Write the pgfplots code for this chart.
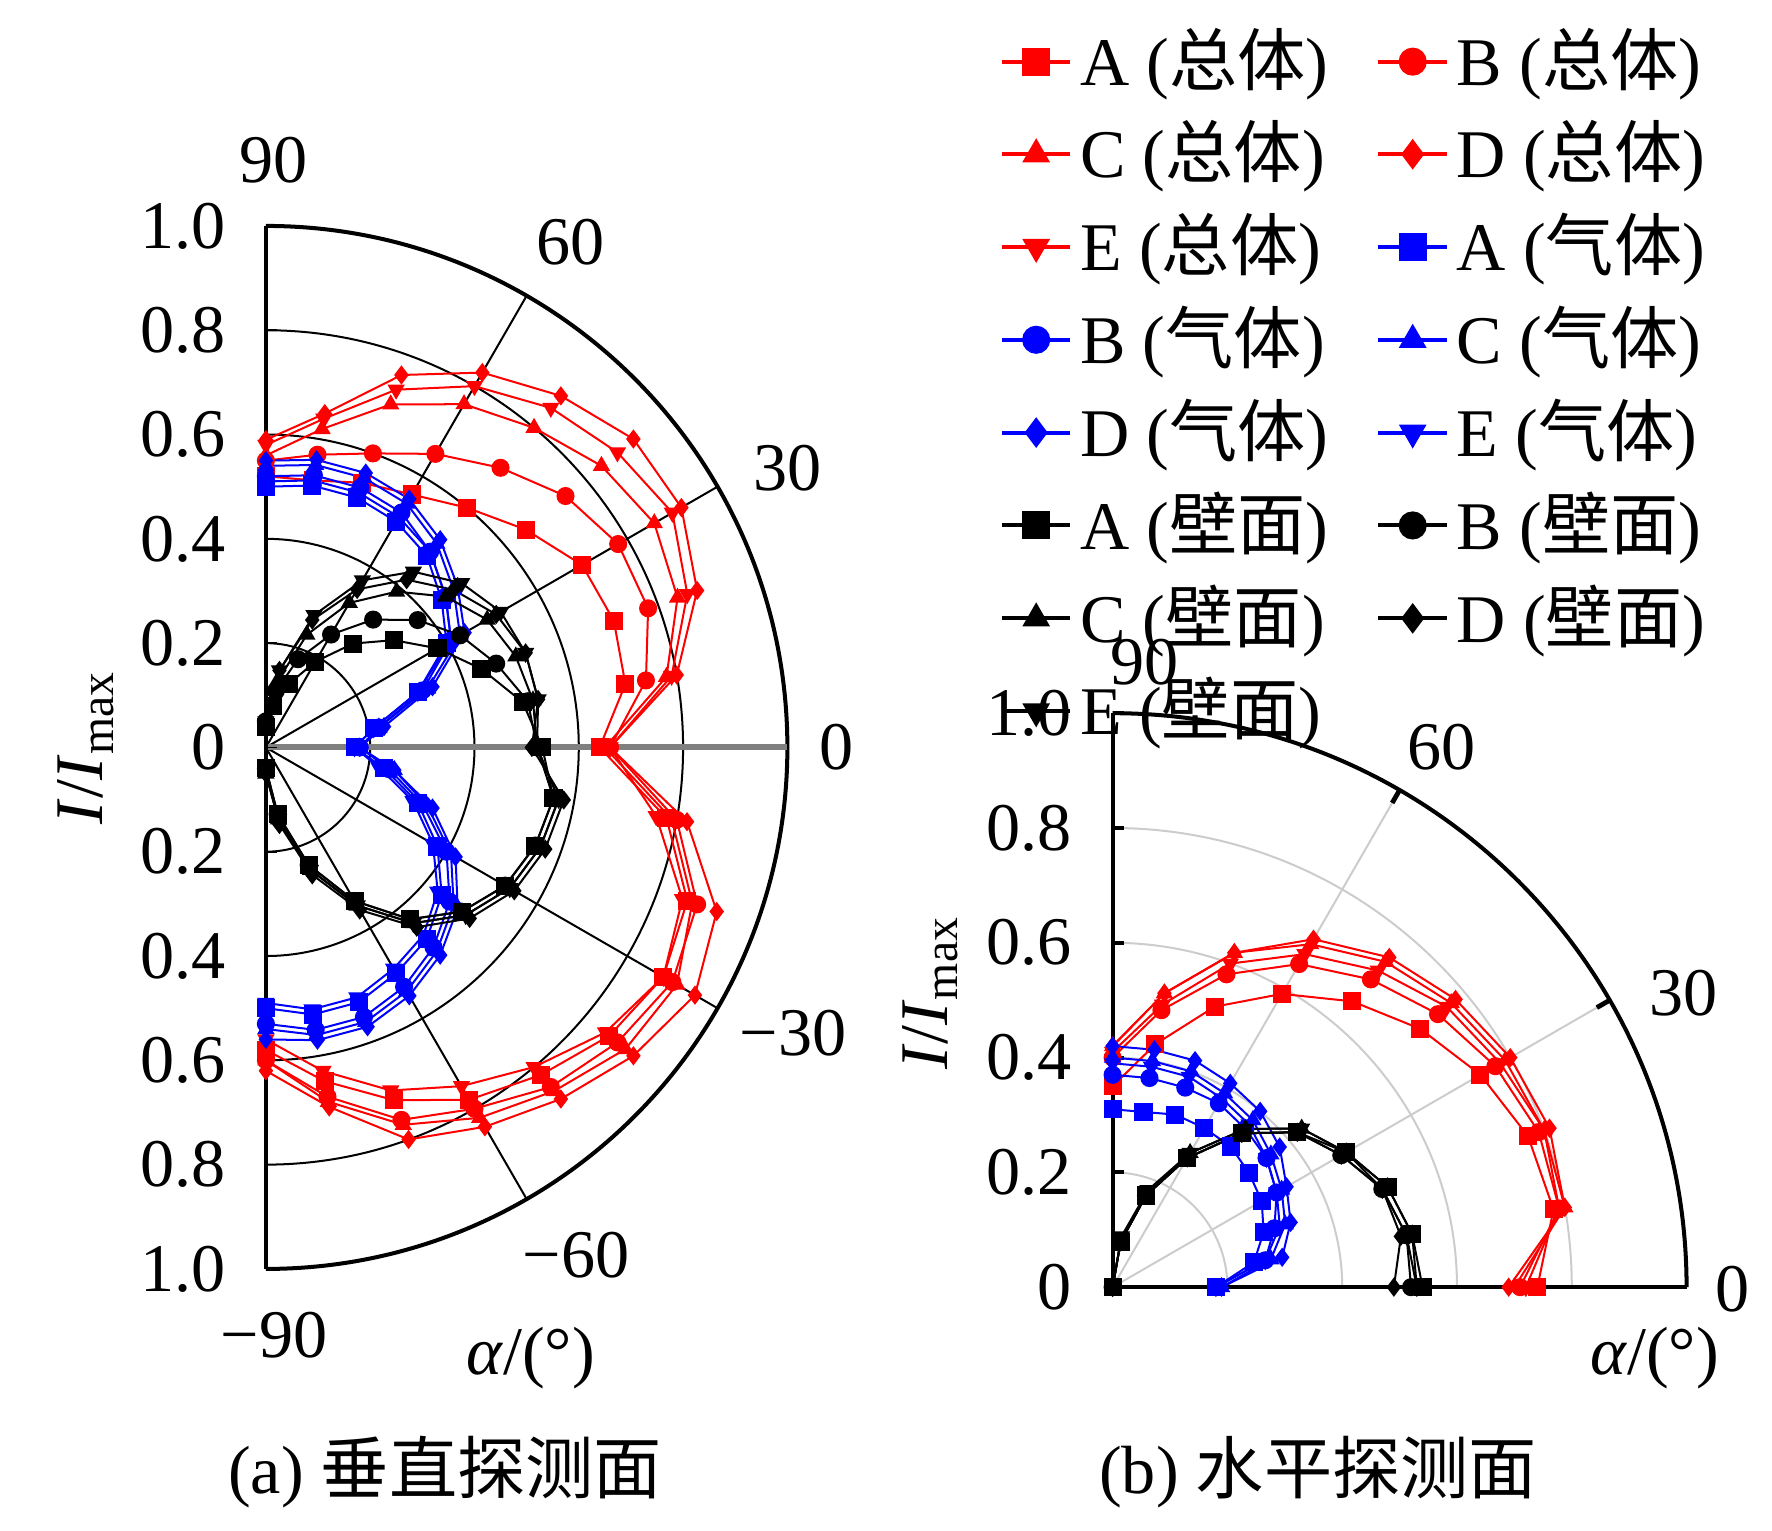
\documentclass[border=0pt]{standalone}
\usepackage{pgfplots}
\pgfplotsset{compat=1.18}
\usepackage{pgfplotstable}
\usepackage{fontspec}
\setmainfont{Liberation Serif}
\newfontfamily\cjk{Noto Sans CJK SC}
\pgfplotstableread{
ang A B C D E
90 .52 .55 .56 .59 .58
80 .52 .57 .62 .65 .64
70 .54 .60 .70 .76 .73
60 .56 .65 .76 .83 .80
50 .60 .70 .80 .88 .85
40 .65 .75 .84 .92 .88
30 .70 .78 .86 .92 .90
20 .71 .78 .84 .88 .86
10 .70 .74 .78 .80 .79
0 .64 .66 .65 .66 .66
-10 .78 .80 .79 .82 .76
-20 .86 .88 .87 .92 .85
-30 .88 .90 .91 .95 .88
-40 .86 .88 .90 .92 .85
-50 .82 .85 .86 .88 .80
-60 .78 .80 .82 .84 .75
-70 .72 .76 .77 .80 .70
-80 .65 .68 .69 .70 .63
-90 .58 .60 .60 .62 .56
}\LRed
\pgfplotstableread{
ang A B C D E
90 .50 .52 .54 .55 .51
80 .51 .53 .55 .56 .52
70 .51 .53 .55 .56 .52
60 .50 .52 .54 .55 .51
50 .48 .49 .51 .52 .49
40 .44 .45 .47 .48 .45
30 .40 .41 .43 .44 .41
20 .31 .32 .33 .34 .31
10 .21 .22 .22 .23 .21
0 .17 .18 .18 .18 .17
-10 .23 .24 .25 .25 .22
-20 .31 .32 .33 .34 .30
-30 .38 .40 .41 .42 .37
-40 .44 .46 .47 .48 .43
-50 .48 .50 .51 .52 .47
-60 .50 .53 .54 .55 .49
-70 .52 .55 .56 .57 .51
-80 .52 .55 .56 .57 .51
-90 .50 .53 .54 .56 .49
}\LBlue
\pgfplotstableread{
ang A B C D E
90 .04 .05 .05 .05 .05
80 .08 .11 .13 .15 .15
70 .13 .18 .23 .26 .27
60 .19 .25 .32 .35 .37
50 .26 .32 .39 .42 .44
40 .32 .38 .45 .47 .49
30 .38 .43 .49 .51 .52
20 .44 .47 .51 .53 .53
10 .50 .51 .52 .53 .53
0 .53 .52 .52 .51 .52
-10 .56 .56 .57 .58 .57
-20 .55 .55 .56 .57 .56
-30 .53 .53 .54 .55 .54
-40 .49 .49 .50 .51 .50
-50 .43 .43 .44 .45 .44
-60 .34 .34 .35 .36 .35
-70 .24 .24 .25 .26 .25
-80 .13 .13 .14 .15 .14
-90 .04 .04 .05 .05 .05
}\LBlack
\pgfplotstableread{
ang A B C D E
0 .74 .71 .70 .69 .72
10 .78 .79 .80 .80 .79
20 .77 .79 .80 .81 .80
30 .74 .77 .79 .80 .78
40 .70 .74 .77 .78 .76
50 .65 .70 .74 .75 .72
60 .59 .65 .69 .70 .67
70 .52 .58 .62 .62 .60
80 .43 .49 .52 .52 .50
90 .35 .40 .42 .42 .41
}\RRed
\pgfplotstableread{
ang A B C D E
0 .18 .18 .19 .19 .18
10 .25 .27 .28 .30 .27
20 .28 .30 .32 .33 .31
30 .30 .33 .34 .35 .33
40 .31 .35 .36 .38 .35
50 .32 .36 .38 .40 .37
60 .32 .37 .39 .41 .38
70 .32 .37 .40 .42 .39
80 .31 .37 .40 .42 .39
90 .31 .37 .40 .42 .39
}\RBlue
\pgfplotstableread{
ang A B C D E
0 .54 .52 .53 .49 .53
10 .53 .52 .53 .51 .52
20 .51 .50 .51 .50 .50
30 .47 .46 .47 .46 .47
40 .42 .42 .43 .42 .43
50 .35 .35 .36 .35 .36
60 .26 .26 .27 .26 .27
70 .17 .17 .17 .17 .18
80 .08 .08 .08 .08 .09
90 .0 .0 .0 .0 .0
}\RBlack
\pgfplotsset{
 sA/.style={mark=square*},
 sB/.style={mark=*},
 sC/.style={mark=triangle*},
 sD/.style={mark=diamond*},
 sE/.style={mark=triangle*,mark options={rotate=180}},
 every axis plot/.append style={line width=0.5pt, mark size=2pt},
}
\newcommand\series[2]{%
 \addplot[#2,sA,data cs=polar] table[x=ang,y=A]{#1};
 \addplot[#2,sB,data cs=polar] table[x=ang,y=B]{#1};
 \addplot[#2,sC,data cs=polar] table[x=ang,y=C]{#1};
 \addplot[#2,sD,data cs=polar] table[x=ang,y=D]{#1};
 \addplot[#2,sE,data cs=polar] table[x=ang,y=E]{#1};
}
\begin{document}
\fontsize{17}{20}\selectfont
\begin{tikzpicture}
\path (0,0) rectangle (15.5,13.1);
% ---------- left grid ----------
\begin{scope}[shift={(2.33,6.55)}]
\foreach \r in {0.914,1.828,2.742,3.656}{
 \draw[line width=0.5pt] (0,\r) arc[start angle=90,end angle=-90,radius=\r];}
\draw[line width=1pt] (0,4.57) arc[start angle=90,end angle=-90,radius=4.57];
\foreach \a in {30,60,-30,-60}{\draw[line width=0.5pt] (0,0) -- (\a:4.57);}
\draw[gray,line width=1.5pt] (0,0) -- (4.57,0);
\draw[line width=1pt] (0,-4.57) -- (0,4.57);
\foreach \y/\t in {-4.57/1.0,-3.656/0.8,-2.742/0.6,-1.828/0.4,-0.914/0.2,0/0,0.914/0.2,1.828/0.4,2.742/0.6,3.656/0.8,4.57/1.0}{
 \draw (0,\y) -- ++(0.1,0);
 \node[anchor=east] at (-0.15,\y) {\t};}
\end{scope}
% ---------- right grid ----------
\begin{scope}[shift={(9.75,1.82)}]
\foreach \r in {1.006,2.012,3.018,4.024}{
 \draw[gray!40,line width=0.5pt] (0,\r) arc[start angle=90,end angle=0,radius=\r];}
\foreach \a in {30,60}{
 \draw[gray!40,line width=0.5pt] (0,0) -- (\a:5.03);
 \draw[line width=1.2pt] (\a:4.9) -- (\a:5.03);}
\draw[line width=1pt] (0,5.03) arc[start angle=90,end angle=0,radius=5.03];
\draw[line width=1pt] (0,5.03) -- (0,0) -- (5.03,0);
\foreach \y/\t in {0/0,1.006/0.2,2.012/0.4,3.018/0.6,4.024/0.8,5.03/1.0}{
 \draw[line width=1pt] (0,\y) -- ++(0.1,0);
 \node[anchor=east] at (-0.15,\y) {\t};}
\end{scope}
% ---------- left ----------
\begin{axis}[at={(2.33cm,1.98cm)},anchor=south west,scale only axis,
 width=4.57cm,height=9.14cm,xmin=0,xmax=1,ymin=-1,ymax=1,axis lines=none,clip=false,
 legend style={at={(rel axis cs:1.383,1.206)},anchor=north west,draw=none,fill=none,
   font=\fontsize{17}{20}\selectfont,legend columns=2,
   /tikz/every even column/.append style={column sep=0.35cm},
   row sep=0.08cm},
 legend image post style={mark size=3pt,line width=1pt},
 legend cell align=left]
\series{\LRed}{red}
\series{\LBlue}{blue}
\series{\LBlack}{black}
\legend{A ({\cjk 总体}),B ({\cjk 总体}),C ({\cjk 总体}),D ({\cjk 总体}),E ({\cjk 总体}),
A ({\cjk 气体}),B ({\cjk 气体}),C ({\cjk 气体}),D ({\cjk 气体}),E ({\cjk 气体}),
A ({\cjk 壁面}),B ({\cjk 壁面}),C ({\cjk 壁面}),D ({\cjk 壁面}),E ({\cjk 壁面})}
\end{axis}
\node at (2.40,11.7) {90};
\node at (5.00,10.98) {60};
\node at (6.90,9.0) {30};
\node at (7.33,6.55) {0};
\node at (6.95,4.05) {−30};
\node at (5.05,2.1) {−60};
\node at (2.40,1.4) {−90};
\node at (4.65,1.2) {\textit{α}/(°)};
\node[rotate=90] at (0.75,6.55) {\textit{I}/\textit{I}\textsubscript{max}};
\node at (3.9,0.2) {(a) {\cjk 垂直探测面}};
% ---------- right ----------
\begin{axis}[at={(9.75cm,1.82cm)},anchor=south west,scale only axis,
 width=5.03cm,height=5.03cm,xmin=0,xmax=1,ymin=0,ymax=1,axis lines=none,clip=false]
\series{\RRed}{red}
\series{\RBlue}{blue}
\series{\RBlack}{black}
\end{axis}
\node at (10.03,7.3) {90};
\node at (12.63,6.55) {60};
\node at (14.75,4.4) {30};
\node at (15.18,1.8) {0};
\node at (14.5,1.2) {\textit{α}/(°)};
\node[rotate=90] at (8.15,4.4) {\textit{I}/\textit{I}\textsubscript{max}};
\node at (11.55,0.2) {(b) {\cjk 水平探测面}};
\end{tikzpicture}
\end{document}
